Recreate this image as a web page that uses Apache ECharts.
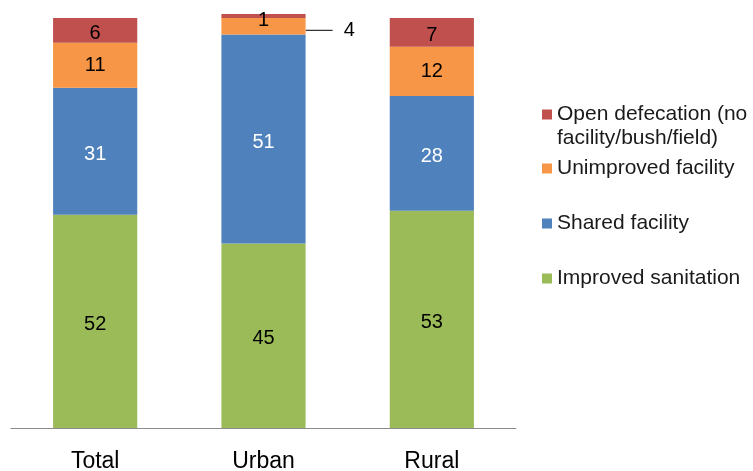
<!DOCTYPE html>
<html>
<head>
<meta charset="utf-8">
<script src="https://cdn.jsdelivr.net/npm/echarts@6/dist/echarts.min.js"></script>
<style>
    html, body { margin: 0; padding: 0; background: #fff; }
    #main { width: 753px; height: 471px; }
</style>
</head>
<body>
<div id="main"></div>
<script>
// 数据 ----
const categories = ['Total', 'Urban', 'Rural'];
const improved = [52, 45, 53];
const shared = [31, 51, 28];
const unimproved = [11, 4, 12];
const openDefecation = [6, 1, 7];

const seriesNames = [
    'Open defecation (no',
    'Unimproved facility',
    'Shared facility',
    'Improved sanitation'
];
const openSecondLine = 'facility/bush/field)';
const colors = ['#C0504D', '#F79646', '#4F81BD', '#9BBB59'];

let labelFont = 'Liberation Sans, Arial, sans-serif';

// 每个图例单独放一个，方便控制间距
function makeLegend(name, top) {
    return {
        orient: 'vertical',
        left: 542,
        top: top,
        padding: 0,
        itemWidth: 10,
        itemHeight: 10,
        itemGap: 0,
        icon: 'rect',
        selectedMode: false,
        data: [name],
        textStyle: {
            fontFamily: labelFont,
            fontSize: 21,
            color: '#1a1a1a'
        }
    };
}

function makeSeries(name, data, color, textColor) {
    return {
        name: name,
        type: 'bar',
        stack: 'all',
        barWidth: '50%',
        data: data,
        itemStyle: { color: color },
        label: {
            show: true,
            position: 'inside',
            offset: [0, 3],
            color: textColor,
            fontFamily: labelFont,
            fontSize: 20
        }
    };
}

let sImproved = makeSeries(seriesNames[3], improved, colors[3], '#000');
let sShared = makeSeries(seriesNames[2], shared, colors[2], '#fff');
let sUnimproved = makeSeries(seriesNames[1], unimproved, colors[1], '#000');
let sOpen = makeSeries(seriesNames[0], openDefecation, colors[0], '#000');

// Urban 的小数值标签：4 放到右边带引线（前面留两个空格当间隙），1 往下挪一点
sUnimproved.data = unimproved.map(function (v, i) {
    if (i !== 1) return v;
    return {
        value: v,
        label: { position: 'right', distance: 27, offset: [0, 0], formatter: '  {c}' },
        labelLine: { show: true, lineStyle: { color: '#000', width: 1 } }
    };
});
sUnimproved.labelLayout = function (params) {
    if (params.dataIndex === 1) return { dy: 4 };
    return {};
};
sOpen.data = openDefecation.map(function (v, i) {
    if (i !== 1) return v;
    return { value: v, label: { offset: [0, 4] } };
});

let option = {
    backgroundColor: '#fff',
    animation: false,
    grid: {
        left: 11,
        right: 237,
        top: 14,
        bottom: 43,
        outerBoundsMode: 'none'
    },
    legend: [
        makeLegend(seriesNames[0], 104),
        makeLegend(seriesNames[1], 158),
        makeLegend(seriesNames[2], 213),
        makeLegend(seriesNames[3], 268)
    ],
    // 第一个图例的第二行
    graphic: [{
        type: 'text',
        left: 557,
        top: 128,
        style: {
            text: openSecondLine,
            fontFamily: labelFont,
            fontSize: 21,
            fill: '#1a1a1a'
        }
    }],
    xAxis: {
        type: 'category',
        data: categories,
        axisLine: { show: true, lineStyle: { color: '#8c8c8c', width: 1 } },
        axisTick: { show: false },
        axisLabel: {
            fontFamily: labelFont,
            fontSize: 23,
            color: '#000',
            margin: 22
        }
    },
    yAxis: {
        type: 'value',
        min: 0,
        max: 101,
        show: false,
        splitLine: { show: false }
    },
    series: [sImproved, sShared, sUnimproved, sOpen]
};

let myChart = echarts.init(document.getElementById('main'));
myChart.setOption(option);
</script>
</body>
</html>
